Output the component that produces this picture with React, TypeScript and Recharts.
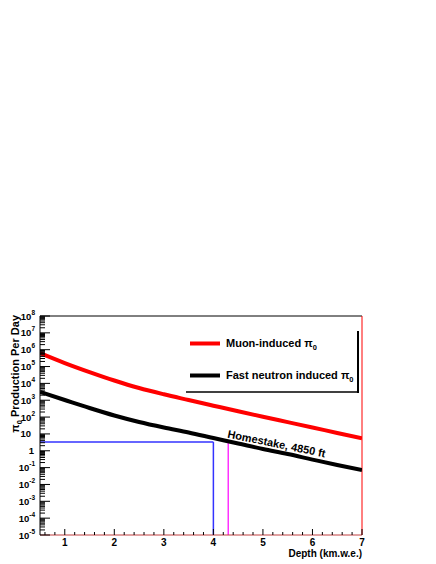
import { LineChart, Line, XAxis, YAxis, ReferenceLine } from "recharts";

// depth in km.w.e.
const depths = [0.5, 1, 1.5, 2, 2.5, 3, 3.5, 4, 4.5, 5, 5.5, 6, 6.5, 7];
// pi0 production per day
const muonInduced = [6.3e5, 1.62e5, 4.7e4, 1.48e4, 5.3e3, 2.25e3, 1.03e3, 475, 220, 104, 50, 24, 11.4, 5.5];
const fastNeutron = [3100, 1030, 345, 124, 51, 24, 12.1, 5.7, 2.7, 1.27, 0.64, 0.3, 0.143, 0.072];

const xMajorTicks = [1, 2, 3, 4, 5, 6, 7];
const yExponents = [-5, -4, -3, -2, -1, 0, 1, 2, 3, 4, 5, 6, 7, 8];

// Homestake marker (4850 ft)
const homestakeDepth = 4.0;
const homestakeRate = 3.3;
const markerDepth = 4.3;
const markerRate = 2.9;

const xMin = 0.5;
const xMax = 7;
const yMin = 1e-5;
const yMax = 1e8;

const data = depths.map((depth, i) => ({
  depth,
  muon: muonInduced[i],
  neutron: fastNeutron[i],
}));

// minor ticks every 0.2
const xTicks: number[] = [];
for (let i = 3; i <= 35; i++) xTicks.push(i / 5);

// log ticks 1..9 per decade
const yTicks: number[] = [];
yExponents.forEach((e) => {
  const n = e === 8 ? 1 : 9;
  for (let m = 1; m <= n; m++) yTicks.push(Number((m * Math.pow(10, e)).toPrecision(3)));
});

const FONT = "'Liberation Sans', Arial, Helvetica, sans-serif";

const YTick = ({ x, y, payload }: any) => {
  const v = payload.value;
  const e = Math.log10(v);
  const major = Math.abs(e - Math.round(e)) < 1e-6;
  const ex = Math.round(e);
  let label = null;
  if (major) {
    if (ex === 0) {
      label = (
        <text x={x - 6} y={y + 3.5} textAnchor="end" fontSize={9.5} fontWeight="bold" fontFamily={FONT}>
          1
        </text>
      );
    } else if (ex === 1) {
      label = (
        <text x={x - 9} y={y + 3.5} textAnchor="end" fontSize={9.5} fontWeight="bold" fontFamily={FONT}>
          10
        </text>
      );
    } else {
      label = (
        <text x={x - 5} y={y + 3.5} textAnchor="end" fontWeight="bold" fontFamily={FONT}>
          <tspan fontSize={9.5}>10</tspan>
          <tspan fontSize={6.5} dy={-5}>
            {ex}
          </tspan>
        </text>
      );
    }
  }
  return (
    <g>
      <line x1={x} x2={x + (major ? 10 : 5)} y1={y} y2={y} stroke="#000" strokeWidth={1} />
      {label}
    </g>
  );
};

const XTick = ({ x, y, payload }: any) => {
  const major = xMajorTicks.includes(payload.value);
  return (
    <g>
      <line x1={x} x2={x} y1={y} y2={y - (major ? 6 : 3)} stroke="#000" strokeWidth={1} />
      {major && (
        <text x={x} y={y + 11} textAnchor="middle" fontSize={10} fontWeight="bold" fontFamily={FONT}>
          {payload.value}
        </text>
      )}
    </g>
  );
};

const Overlay = () => (
  <svg
    width={436}
    height={564}
    style={{ position: "absolute", left: 0, top: 0, pointerEvents: "none" }}
    fontFamily={FONT}
    fontWeight="bold"
  >
    {/* legend */}
    <line x1={186} x2={359} y1={392} y2={392} stroke="#000" strokeWidth={1.5} />
    <line x1={358} x2={358} y1={331} y2={393} stroke="#000" strokeWidth={2} />
    <line x1={190} x2={220} y1={343.5} y2={343.5} stroke="#ff0000" strokeWidth={4} />
    <text x={226} y={347} fontSize={11}>
      Muon-induced π<tspan fontSize={7.5} dy={3}>0</tspan>
    </text>
    <line x1={190} x2={220} y1={375.5} y2={375.5} stroke="#000" strokeWidth={4} />
    <text x={226} y={378.5} fontSize={11}>
      Fast neutron induced π<tspan fontSize={7.5} dy={3}>0</tspan>
    </text>

    {/* y title */}
    <text x={18.5} y={315} fontSize={11} textAnchor="end" transform="rotate(-90 18.5 315)">
      π<tspan fontSize={7.5} dy={3}>0</tspan>
      <tspan dy={-3}> Production Per Day</tspan>
    </text>

    {/* x title */}
    <text x={362} y={557} fontSize={10} textAnchor="end">
      Depth (km.w.e.)
    </text>

    {/* annotation */}
    <text x={227} y={437.5} fontSize={11} transform="rotate(11.5 227 437.5)">
      Homestake, 4850 ft
    </text>
  </svg>
);

export default function App() {
  return (
    <div style={{ position: "absolute", left: 0, top: 0, width: 436, height: 564, background: "#fff" }}>
      <LineChart width={436} height={564} data={data} margin={{ top: 316, right: 74, left: 0, bottom: 0 }}>
        <XAxis
          dataKey="depth"
          type="number"
          domain={[xMin, xMax]}
          ticks={xTicks}
          interval={0}
          allowDataOverflow
          height={29}
          tickSize={0}
          tickMargin={0}
          tickLine={false}
          axisLine={{ stroke: "#c04040", strokeWidth: 1 }}
          tick={<XTick />}
        />
        <YAxis
          type="number"
          scale="log"
          domain={[yMin, yMax]}
          ticks={yTicks}
          interval={0}
          allowDataOverflow
          width={40}
          tickSize={0}
          tickMargin={0}
          tickLine={false}
          axisLine={{ stroke: "#000", strokeWidth: 1 }}
          tick={<YTick />}
        />
        <ReferenceLine y={yMax} stroke="#000" strokeWidth={1} />
        <ReferenceLine x={xMax} stroke="#ff0000" strokeWidth={1} />
        <ReferenceLine
          segment={[
            { x: xMin, y: homestakeRate },
            { x: homestakeDepth, y: homestakeRate },
          ]}
          stroke="#3333ff"
          strokeWidth={1.5}
        />
        <ReferenceLine
          segment={[
            { x: homestakeDepth, y: homestakeRate },
            { x: homestakeDepth, y: yMin },
          ]}
          stroke="#3333ff"
          strokeWidth={1.5}
        />
        <ReferenceLine
          segment={[
            { x: markerDepth, y: markerRate },
            { x: markerDepth, y: yMin },
          ]}
          stroke="#ff33ff"
          strokeWidth={1.5}
        />
        <Line
          type="monotone"
          dataKey="muon"
          stroke="#ff0000"
          strokeWidth={4}
          dot={false}
          isAnimationActive={false}
        />
        <Line
          type="monotone"
          dataKey="neutron"
          stroke="#000"
          strokeWidth={4}
          dot={false}
          isAnimationActive={false}
        />
      </LineChart>
      <Overlay />
    </div>
  );
}
